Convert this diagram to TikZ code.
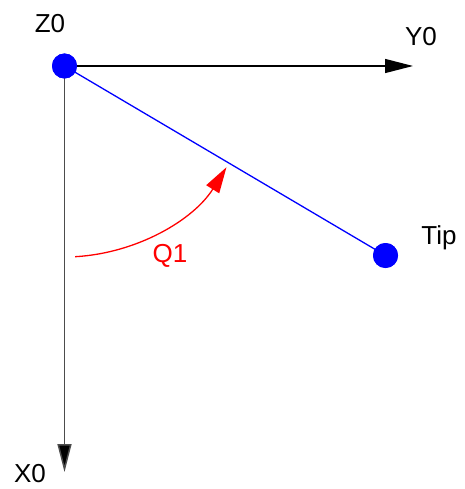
\documentclass[tikz,border=0pt]{standalone}
\usepackage{fontspec}
\setmainfont{Liberation Sans}
\usetikzlibrary{arrows.meta}

\begin{document}
\begin{tikzpicture}[x=1pt, y=1pt, font=\fontsize{26}{30}\selectfont]
    \useasboundingbox (0,-489) rectangle (464,0);

    % Puntos (origen y extremo)
    \tikzset{punto/.style={circle, fill=blue, inner sep=0pt, minimum size=25pt},
             etiqueta/.style={inner sep=0pt}}
    \node[punto] (Z0) at (64.5,-66) {};
    \node[punto] (Tip) at (385.5,-255.5) {};
    \coordinate (Yend) at (413,-66);
    \coordinate (Xend) at (64.5,-472);

    % Ejes
    \draw[line width=1.3pt, -{Triangle[length=28pt,width=14pt]}] (Z0.center) -- (Yend);
    \draw[line width=1.5pt, black!70, -{Triangle[length=28pt,width=14pt,fill=black]}] (Z0.center) -- (Xend);

    % Brazo
    \draw[blue, line width=1.3pt] (Z0.center) -- (Tip.center);
    \node[punto] at (Z0) {};
    \node[punto] at (Tip) {};

    % Angulo Q1
    \draw[red, line width=1.3pt, -{Triangle[length=26pt,width=15pt]}]
        (Z0.center) ++(-86.8:191) arc[start angle=-86.8, end angle=-32, radius=191];

    % Etiquetas
    \node[etiqueta] (lZ0) at (50,-24) {Z0};
    \node[etiqueta] (lY0) at (421,-37) {Y0};
    \node[etiqueta] (lX0) at (30,-474) {X0};
    \node[etiqueta] (lTip) at (439,-238) {Tip};
    \node[etiqueta, red] (lQ1) at (170,-256) {Q1};
\end{tikzpicture}
\end{document}
